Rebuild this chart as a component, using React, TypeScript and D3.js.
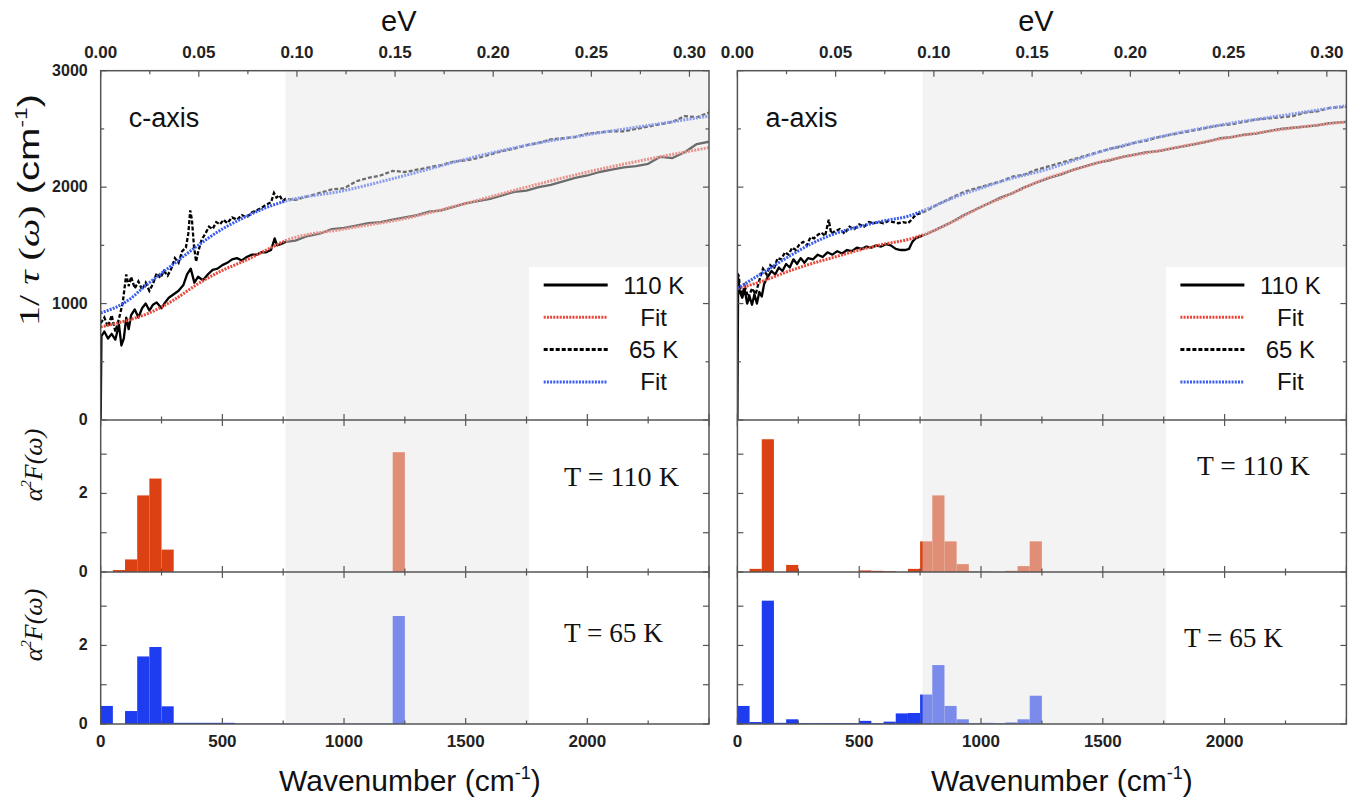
import React from 'react';
import * as d3 from 'd3';

type P = [number, number];

// ---------- tick labels ----------
const wavenumberTicks = [0, 500, 1000, 1500, 2000];
const wavenumberMinor = [250, 750, 1250, 1750, 2250];
const evTicks = [0, 0.05, 0.1, 0.15, 0.2, 0.25, 0.3];
const evMinor = [0.025, 0.075, 0.125, 0.175, 0.225, 0.275];
const rateTicks = [0, 1000, 2000, 3000];
const rateMinor = [500, 1500, 2500];
const a2fLabelTicks = [0, 2];
const a2fTicks = [0, 1, 2, 3];

const CM_PER_EV = 8065.54;
const BIN = 50;

// ---------- c-axis 1/tau data ----------
const c110: P[] = [
  [0, 0], [3, 720], [15, 760], [30, 700], [45, 740], [60, 690], [75, 820], [85, 640], [95, 700],
  [105, 880], [115, 780], [125, 900], [140, 950], [155, 880], [170, 960], [185, 1000], [200, 940],
  [215, 990], [230, 1010], [250, 960], [265, 1010], [280, 1050], [300, 1080], [320, 1110], [340, 1160],
  [355, 1250], [370, 1300], [385, 1180], [400, 1230], [420, 1200], [440, 1250], [460, 1290], [480, 1300],
  [500, 1330], [520, 1350], [540, 1380], [560, 1390], [580, 1370], [600, 1400], [620, 1420], [640, 1420],
  [660, 1440], [680, 1440], [700, 1460], [715, 1560], [725, 1500], [740, 1510], [760, 1530],
  [800, 1540], [850, 1580], [900, 1600], [950, 1640], [1000, 1650], [1050, 1670], [1100, 1690],
  [1150, 1700], [1200, 1720], [1250, 1740], [1300, 1760], [1350, 1790], [1400, 1800], [1450, 1830],
  [1500, 1860], [1550, 1880], [1600, 1900], [1650, 1930], [1700, 1960], [1750, 1970], [1800, 2000],
  [1850, 2020], [1900, 2050], [1950, 2080], [2000, 2100], [2050, 2130], [2100, 2150], [2150, 2170],
  [2200, 2180], [2250, 2200], [2300, 2260], [2350, 2250], [2400, 2300], [2450, 2370], [2500, 2390],
];
const c65: P[] = [
  [0, 830], [15, 880], [30, 800], [45, 900], [60, 760], [75, 870], [90, 1000], [105, 1250], [115, 1150],
  [125, 1230], [140, 1130], [155, 1190], [170, 1120], [185, 1180], [200, 1110], [215, 1170], [230, 1260],
  [245, 1220], [260, 1280], [275, 1240], [290, 1300], [305, 1390], [320, 1350], [335, 1450], [350, 1480],
  [360, 1600], [368, 1800], [375, 1720], [383, 1500], [392, 1360], [400, 1440], [415, 1550], [430, 1600],
  [445, 1660], [460, 1640], [475, 1700], [490, 1680], [505, 1720], [520, 1690], [540, 1740], [560, 1720],
  [580, 1760], [600, 1740], [620, 1780], [640, 1800], [660, 1820], [680, 1850], [700, 1870], [712, 1950],
  [722, 1910], [735, 1930], [748, 1880], [760, 1900],
  [800, 1890], [850, 1920], [900, 1950], [950, 1980], [1000, 1990], [1050, 2050], [1100, 2080],
  [1150, 2100], [1200, 2140], [1250, 2130], [1300, 2150], [1350, 2170], [1400, 2190], [1450, 2220],
  [1500, 2230], [1550, 2250], [1600, 2280], [1650, 2310], [1700, 2330], [1750, 2360], [1800, 2380],
  [1850, 2410], [1900, 2420], [1950, 2430], [2000, 2460], [2050, 2470], [2100, 2480], [2150, 2480],
  [2200, 2500], [2250, 2520], [2300, 2540], [2350, 2560], [2400, 2610], [2450, 2600], [2500, 2640],
];
const c110Fit: P[] = [
  [0, 800], [100, 850], [200, 920], [300, 1030], [400, 1170], [500, 1285], [600, 1375], [700, 1480],
  [760, 1540], [1000, 1640], [1250, 1730], [1500, 1860], [1750, 2000], [2000, 2130], [2250, 2240], [2500, 2340],
];
const c65Fit: P[] = [
  [0, 920], [100, 1010], [200, 1180], [300, 1340], [400, 1500], [500, 1640], [600, 1750], [700, 1840],
  [760, 1880], [1000, 1970], [1250, 2100], [1500, 2240], [1750, 2360], [2000, 2450], [2250, 2530], [2500, 2610],
];

// ---------- a-axis 1/tau data ----------
const a110: P[] = [
  [0, 0], [3, 1220], [10, 1100], [20, 1050], [30, 1120], [40, 1000], [50, 1060], [60, 990], [70, 1080],
  [80, 1000], [90, 1100], [100, 1060], [110, 1170], [125, 1230], [140, 1280], [155, 1250], [170, 1310],
  [185, 1280], [200, 1340], [215, 1310], [230, 1380], [245, 1340], [260, 1390], [275, 1350], [290, 1390],
  [310, 1380], [330, 1420], [350, 1400], [370, 1440], [390, 1420], [410, 1450], [430, 1430], [450, 1460],
  [470, 1450], [490, 1480], [510, 1470], [530, 1490], [550, 1480], [570, 1500], [590, 1490], [610, 1510],
  [630, 1500], [650, 1470], [670, 1460], [690, 1460], [705, 1470], [718, 1530], [731, 1560],
  [780, 1600], [830, 1650], [880, 1700], [930, 1760], [980, 1810], [1030, 1860], [1080, 1910],
  [1130, 1950], [1180, 2000], [1230, 2040], [1280, 2080], [1330, 2110], [1380, 2150], [1430, 2180],
  [1480, 2210], [1530, 2230], [1580, 2260], [1630, 2280], [1680, 2300], [1730, 2310], [1780, 2330],
  [1830, 2350], [1880, 2370], [1930, 2390], [1980, 2420], [2030, 2430], [2080, 2450], [2130, 2460],
  [2180, 2480], [2230, 2500], [2280, 2510], [2330, 2520], [2380, 2530], [2430, 2550], [2500, 2560],
];
const a65: P[] = [
  [0, 1260], [5, 1240], [12, 1120], [20, 1080], [30, 1150], [45, 1050], [60, 1130], [75, 1080], [90, 1200],
  [105, 1300], [120, 1250], [135, 1330], [150, 1300], [165, 1390], [180, 1380], [195, 1440], [210, 1420],
  [225, 1480], [240, 1460], [255, 1510], [270, 1530], [285, 1500], [300, 1570], [315, 1560], [330, 1590],
  [345, 1610], [360, 1580], [375, 1720], [385, 1600], [400, 1620], [420, 1640], [440, 1600], [460, 1660],
  [480, 1640], [500, 1680], [520, 1660], [540, 1700], [560, 1690], [580, 1700], [600, 1690], [620, 1710],
  [640, 1700], [660, 1690], [680, 1700], [700, 1690], [715, 1720], [731, 1760],
  [780, 1800], [830, 1860], [880, 1910], [930, 1960], [980, 1990], [1030, 2020], [1080, 2050],
  [1130, 2090], [1180, 2110], [1230, 2150], [1280, 2180], [1330, 2210], [1380, 2240], [1430, 2270],
  [1480, 2300], [1530, 2330], [1580, 2350], [1630, 2380], [1680, 2400], [1730, 2430], [1780, 2450],
  [1830, 2470], [1880, 2490], [1930, 2510], [1980, 2530], [2030, 2540], [2080, 2560], [2130, 2580],
  [2180, 2590], [2230, 2600], [2280, 2610], [2330, 2640], [2380, 2650], [2430, 2680], [2500, 2690],
];
const a110Fit: P[] = [
  [0, 1130], [100, 1190], [200, 1270], [300, 1340], [400, 1400], [500, 1460], [600, 1510], [700, 1550],
  [800, 1620], [900, 1720], [1000, 1830], [1100, 1920], [1250, 2060], [1400, 2160], [1500, 2220],
  [1750, 2320], [2000, 2420], [2250, 2500], [2500, 2560],
];
const a65Fit: P[] = [
  [0, 1130], [100, 1260], [200, 1390], [300, 1510], [400, 1600], [500, 1660], [600, 1710], [700, 1750],
  [800, 1830], [900, 1920], [1000, 1990], [1100, 2060], [1250, 2140], [1500, 2310], [1750, 2440],
  [2000, 2540], [2250, 2620], [2500, 2700],
];

// ---------- alpha^2 F histograms: [bin start (cm-1), value] ----------
const cHist110: P[] = [[50, 0.05], [100, 0.32], [150, 1.95], [200, 2.38], [250, 0.57], [1200, 3.05]];
const cHist65: P[] = [
  [0, 0.46], [100, 0.33], [150, 1.72], [200, 1.96], [250, 0.45], [300, 0.03], [350, 0.03], [400, 0.03],
  [450, 0.03], [500, 0.03], [550, 0.01], [600, 0.01], [650, 0.01], [700, 0.01], [750, 0.01], [800, 0.01],
  [850, 0.01], [900, 0.01], [950, 0.01], [1000, 0.01], [1050, 0.01], [1100, 0.01], [1150, 0.01], [1200, 2.75],
];
const aHist110: P[] = [
  [50, 0.08], [100, 3.38], [200, 0.18], [500, 0.04], [550, 0.03], [600, 0.02], [700, 0.08], [750, 0.78],
  [800, 1.95], [850, 0.78], [900, 0.2], [950, 0.01], [1000, 0.01], [1100, 0.03], [1150, 0.15], [1200, 0.78],
];
const aHist65: P[] = [
  [0, 0.46], [50, 0.05], [100, 3.14], [150, 0.03], [200, 0.12], [250, 0.02], [300, 0.02], [350, 0.02],
  [400, 0.02], [450, 0.02], [500, 0.08], [550, 0.02], [600, 0.06], [650, 0.27], [700, 0.28], [750, 0.75],
  [800, 1.5], [850, 0.46], [900, 0.12], [950, 0.02], [1000, 0.03], [1050, 0.02], [1100, 0.04],
  [1150, 0.12], [1200, 0.72],
];

const legendLabels = ['110 K', 'Fit', '65 K', 'Fit'];
const bandRange = [760, 1760];

// ---------- layout & style ----------
const W = 1370, H = 809;
const TOP = 70.7, MID = 420, BOT = 572, END = 724;
const RED = '#dc4114';
const BLUE = '#1e3cf0';
const FIT_RED = '#e8483a';
const FIT_BLUE = '#3a5cf0';
const FRAME = '#555';
const SANS = '"Liberation Sans", Arial, sans-serif';
const SERIF = '"Liberation Serif", "Times New Roman", serif';

const legendStyles = [
  { stroke: '#000', dash: undefined as string | undefined },
  { stroke: FIT_RED, dash: '2,1.2' },
  { stroke: '#000', dash: '4,2' },
  { stroke: FIT_BLUE, dash: '2,1.2' },
];

interface ColProps {
  id: string; x0: number; x1: number; title: string;
  d110: P[]; d65: P[]; f110: P[]; f65: P[]; h110: P[]; h65: P[];
  showY: boolean; t110: [number, number]; t65: [number, number];
}

function Column(p: ColProps) {
  const xs = d3.scaleLinear().domain([0, 2500]).range([p.x0, p.x1]);
  const xe = d3.scaleLinear().domain([0, 2500 / CM_PER_EV]).range([p.x0, p.x1]);
  const yR = d3.scaleLinear().domain([0, 3000]).range([MID, TOP]);
  const yM = d3.scaleLinear().domain([0, 3.87]).range([BOT, MID]);
  const yB = d3.scaleLinear().domain([0, 3.87]).range([END, BOT]);
  const line = d3.line<P>().x(d => xs(d[0])).y(d => yR(d[1]));
  const fit = d3.line<P>().x(d => xs(d[0])).y(d => yR(d[1])).curve(d3.curveMonotoneX);
  const w = p.x1 - p.x0;
  const bandFill = 'rgb(229,229,229)';
  const bandOp = 0.47;

  const bars = (data: P[], y: d3.ScaleLinear<number, number>, color: string) =>
    data.map((d, i) => (
      <rect key={i} x={xs(d[0])} width={xs(d[0] + BIN) - xs(d[0])} y={y(d[1])}
        height={y(0) - y(d[1])} fill={color} />
    ));

  const xTicks = (yy: number, dir: number, key: string) => (
    <g key={key} stroke={FRAME} strokeWidth={1.2}>
      {wavenumberTicks.concat([2500]).map(t => (
        <line key={'M' + t} x1={xs(t)} x2={xs(t)} y1={yy} y2={yy + dir * 6} />
      ))}
      {wavenumberMinor.map(t => (
        <line key={'m' + t} x1={xs(t)} x2={xs(t)} y1={yy} y2={yy + dir * 3.5} />
      ))}
    </g>
  );
  const yTicks = (ticks: number[], minor: number[], y: d3.ScaleLinear<number, number>, key: string) => (
    <g key={key} stroke={FRAME} strokeWidth={1.2}>
      {ticks.map(t => (
        <g key={'M' + t}>
          <line x1={p.x0} x2={p.x0 + 6} y1={y(t)} y2={y(t)} />
          <line x1={p.x1} x2={p.x1 - 6} y1={y(t)} y2={y(t)} />
        </g>
      ))}
      {minor.map(t => (
        <g key={'m' + t}>
          <line x1={p.x0} x2={p.x0 + 3.5} y1={y(t)} y2={y(t)} />
          <line x1={p.x1} x2={p.x1 - 3.5} y1={y(t)} y2={y(t)} />
        </g>
      ))}
    </g>
  );

  const legX0 = p.x0 + 443, legX1 = p.x0 + 507, legText = p.x0 + 553;
  const legBoxX = xs(bandRange[1]);

  return (
    <g>
      <defs>
        <clipPath id={'clipTop' + p.id}>
          <rect x={p.x0} y={TOP} width={w} height={MID - TOP} />
        </clipPath>
      </defs>
      {/* top panel */}
      <g clipPath={`url(#clipTop${p.id})`}>
        <path d={line(p.d110) || ''} fill="none" stroke="#000" strokeWidth={2.3} strokeLinejoin="round" />
        <path d={line(p.d65) || ''} fill="none" stroke="#000" strokeWidth={2.3} strokeDasharray="4,2" />
        <path d={fit(p.f110) || ''} fill="none" stroke={FIT_RED} strokeWidth={3} strokeDasharray="2,1.2" />
        <path d={fit(p.f65) || ''} fill="none" stroke={FIT_BLUE} strokeWidth={3} strokeDasharray="2,1.2" />
        <rect x={xs(bandRange[0])} y={TOP} width={p.x1 - xs(bandRange[0])} height={MID - TOP}
          fill={bandFill} fillOpacity={bandOp} />
        <rect x={legBoxX} y={267} width={p.x1 - legBoxX} height={MID - 267} fill="#fff" />
      </g>
      {legendLabels.map((lab, i) => {
        const yy = 285 + i * 32.3;
        const st = legendStyles[i];
        return (
          <g key={i}>
            <line x1={legX0} x2={legX1} y1={yy} y2={yy} stroke={st.stroke} strokeWidth={3}
              strokeDasharray={st.dash} />
            <text x={legText} y={yy + 8.5} textAnchor="middle" fontFamily={SANS} fontSize={24}
              fill="#111">{lab}</text>
          </g>
        );
      })}
      <text x={p.x0 + 28} y={127} fontFamily={SANS} fontSize={27} fill="#111">{p.title}</text>

      {/* middle panel */}
      {bars(p.h110, yM, RED)}
      <rect x={xs(bandRange[0])} y={MID} width={xs(bandRange[1]) - xs(bandRange[0])} height={BOT - MID}
        fill={bandFill} fillOpacity={bandOp} />
      {/* bottom panel */}
      {bars(p.h65, yB, BLUE)}
      <rect x={xs(bandRange[0])} y={BOT} width={xs(bandRange[1]) - xs(bandRange[0])} height={END - BOT}
        fill={bandFill} fillOpacity={bandOp} />

      <text x={p.t110[0]} y={p.t110[1]} fontFamily={SERIF} fontSize={27} fill="#111"
        textLength={p.id === 'c' ? 115 : 113} lengthAdjust="spacingAndGlyphs">T = 110 K</text>
      <text x={p.t65[0]} y={p.t65[1]} fontFamily={SERIF} fontSize={27} fill="#111"
        textLength={99} lengthAdjust="spacingAndGlyphs">T = 65 K</text>

      {/* frames */}
      <rect x={p.x0} y={TOP} width={w} height={END - TOP} fill="none" stroke={FRAME} strokeWidth={1.5} />
      <line x1={p.x0} x2={p.x1} y1={MID} y2={MID} stroke={FRAME} strokeWidth={1.5} />
      <line x1={p.x0} x2={p.x1} y1={BOT} y2={BOT} stroke={FRAME} strokeWidth={1.5} />

      {/* x ticks on each panel edge */}
      {xTicks(MID, -1, 'b1')}
      {xTicks(MID, 1, 't2')}
      {xTicks(BOT, -1, 'b2')}
      {xTicks(BOT, 1, 't3')}
      {xTicks(END, -1, 'b3')}
      {/* eV ticks on top */}
      <g stroke={FRAME} strokeWidth={1.2}>
        {evTicks.map(t => <line key={'e' + t} x1={xe(t)} x2={xe(t)} y1={TOP} y2={TOP + 6} />)}
        {evMinor.map(t => <line key={'em' + t} x1={xe(t)} x2={xe(t)} y1={TOP} y2={TOP + 3.5} />)}
      </g>
      {yTicks(rateTicks, rateMinor, yR, 'yr')}
      {yTicks(a2fTicks, [], yM, 'ym')}
      {yTicks(a2fTicks, [], yB, 'yb')}

      {/* eV labels */}
      {evTicks.map(t => (
        <text key={'el' + t} x={xe(t)} y={58} textAnchor="middle" fontFamily={SANS} fontWeight="bold"
          fontSize={17} fill="#222">{t.toFixed(2)}</text>
      ))}
      <text x={(p.x0 + p.x1) / 2 - 6} y={31} textAnchor="middle" fontFamily={SANS} fontSize={29}
        fill="#111">eV</text>
      {/* wavenumber labels */}
      {wavenumberTicks.map(t => (
        <text key={'wl' + t} x={xs(t)} y={747} textAnchor="middle" fontFamily={SANS} fontWeight="bold"
          fontSize={17} fill="#222">{t}</text>
      ))}
      <text x={(p.x0 + p.x1) / 2 + (p.id === 'c' ? 5 : 20)} y={791} textAnchor="middle" fontFamily={SANS}
        fontSize={30} fill="#111">
        Wavenumber (cm<tspan dy={-12} fontSize={18}>-1</tspan><tspan dy={12}>)</tspan>
      </text>

      {p.showY && (
        <g>
          {rateTicks.map(t => (
            <text key={'rl' + t} x={p.x0 - 13} y={yR(t) + 5} textAnchor="end" fontFamily={SANS}
              fontWeight="bold" fontSize={16} fill="#222">{t}</text>
          ))}
          {a2fLabelTicks.map(t => (
            <g key={'al' + t}>
              <text x={p.x0 - 13} y={yM(t) + 5} textAnchor="end" fontFamily={SANS} fontWeight="bold"
                fontSize={16} fill="#222">{t}</text>
              <text x={p.x0 - 13} y={yB(t) + 5} textAnchor="end" fontFamily={SANS} fontWeight="bold"
                fontSize={16} fill="#222">{t}</text>
            </g>
          ))}
          <text transform="translate(39,210) rotate(-90)" textAnchor="middle" fontSize={30} fill="#111"
            textLength={232} lengthAdjust="spacingAndGlyphs">
            <tspan fontFamily={SERIF}>1/</tspan>
            <tspan fontFamily={SERIF} fontStyle="italic"> τ </tspan>
            <tspan fontFamily={SERIF}>(</tspan>
            <tspan fontFamily={SERIF} fontStyle="italic">ω</tspan>
            <tspan fontFamily={SERIF}>)</tspan>
            <tspan fontFamily={SANS}> (cm</tspan>
            <tspan fontFamily={SANS} fontSize={17} dy={-12}>-1</tspan>
            <tspan fontFamily={SANS} dy={12}>)</tspan>
          </text>
          {[465, 625].map(cy => (
            <text key={cy} transform={`translate(42,${cy}) rotate(-90)`} textAnchor="middle"
              fontFamily={SERIF} fontStyle="italic" fontSize={26} fill="#111">
              α<tspan fontSize={15} dy={-11}>2</tspan><tspan dy={11}>F(ω)</tspan>
            </text>
          ))}
        </g>
      )}
    </g>
  );
}

export default function App() {
  return (
    <svg width={W} height={H} viewBox={`0 0 ${W} ${H}`}
      style={{ position: 'absolute', left: 0, top: 0, background: '#fff' }}>
      <rect x={0} y={0} width={W} height={H} fill="#fff" />
      <Column id="c" x0={100.7} x1={709} title="c-axis" d110={c110} d65={c65} f110={c110Fit} f65={c65Fit}
        h110={cHist110} h65={cHist65} showY={true} t110={[564, 486]} t65={[564, 642]} />
      <Column id="a" x0={737.4} x1={1346.4} title="a-axis" d110={a110} d65={a65} f110={a110Fit} f65={a65Fit}
        h110={aHist110} h65={aHist65} showY={false} t110={[1197, 475]} t65={[1184, 647]} />
    </svg>
  );
}
